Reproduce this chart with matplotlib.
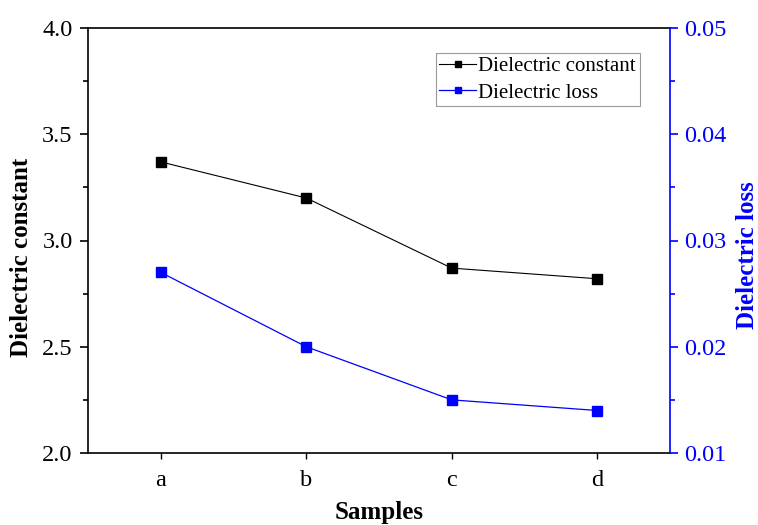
import matplotlib
matplotlib.use("Agg")
import matplotlib.pyplot as plt
from matplotlib.ticker import MultipleLocator, FormatStrFormatter

samples = ["a", "b", "c", "d"]
dielectric_constant = [3.37, 3.20, 2.87, 2.82]
dielectric_loss = [0.027, 0.020, 0.015, 0.014]

plt.rcParams["font.family"] = ["Liberation Serif", "DejaVu Serif"]

fig = plt.figure(figsize=(7.58, 5.25), dpi=100)
ax = fig.add_axes([88 / 758, 1 - 453 / 525, (670 - 88) / 758, (453 - 28) / 525])
ax2 = ax.twinx()

x = list(range(1, len(samples) + 1))
l1, = ax.plot(x, dielectric_constant, color="black", lw=0.8, marker="s", ms=6.5,
              mfc="black", mec="black", label="Dielectric constant")
l2, = ax2.plot(x, dielectric_loss, color="blue", lw=0.9, marker="s", ms=6.5,
               mfc="blue", mec="blue", label="Dielectric loss")

ax.set_xlim(0.5, 4.5)
ax.set_xticks(x)
ax.set_xticklabels(samples)
ax.set_ylim(2.0, 4.0)
ax.yaxis.set_major_locator(MultipleLocator(0.5))
ax.yaxis.set_minor_locator(MultipleLocator(0.25))
ax2.set_ylim(0.01, 0.05)
ax2.yaxis.set_major_locator(MultipleLocator(0.01))
ax2.yaxis.set_minor_locator(MultipleLocator(0.005))
ax2.yaxis.set_major_formatter(FormatStrFormatter("%.2f"))

for a in (ax, ax2):
    for s in a.spines.values():
        s.set_linewidth(1.2)
ax.spines["right"].set_visible(False)
ax2.spines["left"].set_visible(False)
ax2.spines["bottom"].set_visible(False)
ax2.spines["top"].set_visible(False)
ax2.spines["right"].set_color("blue")

ax.tick_params(axis="y", which="major", direction="out", length=6, width=1.2,
               labelsize=17.5, pad=5, colors="black")
ax.tick_params(axis="y", which="minor", direction="out", length=3.6, width=1.2)
ax.tick_params(axis="x", which="major", direction="out", length=4, width=1,
               labelsize=17.5, pad=8)
ax2.tick_params(axis="y", which="major", direction="out", length=6, width=1.2,
                labelsize=17.5, pad=4, colors="blue")
ax2.tick_params(axis="y", which="minor", direction="out", length=3.6, width=1.2,
                colors="blue")

fig.text(379 / 758, 1 - 513 / 525, "Samples", fontsize=18, fontweight="bold",
         ha="center", va="center")
fig.text(22 / 758, 1 - 257 / 525, "Dielectric constant", fontsize=18,
         fontweight="bold", rotation=90, ha="center", va="center")
fig.text(747 / 758, 1 - 255 / 525, "Dielectric loss", fontsize=18,
         fontweight="bold", color="blue", rotation=90, ha="center", va="center")

leg = ax.legend(handles=[l1, l2], loc="upper right", bbox_to_anchor=(0.948, 0.941),
                fontsize=15, frameon=True, fancybox=False, edgecolor="gray",
                handlelength=1.75, handletextpad=0.12, borderpad=0.18,
                labelspacing=0.32, markerscale=0.75, borderaxespad=0)
leg.get_frame().set_linewidth(0.8)

fig.savefig("out.png", dpi=100)
